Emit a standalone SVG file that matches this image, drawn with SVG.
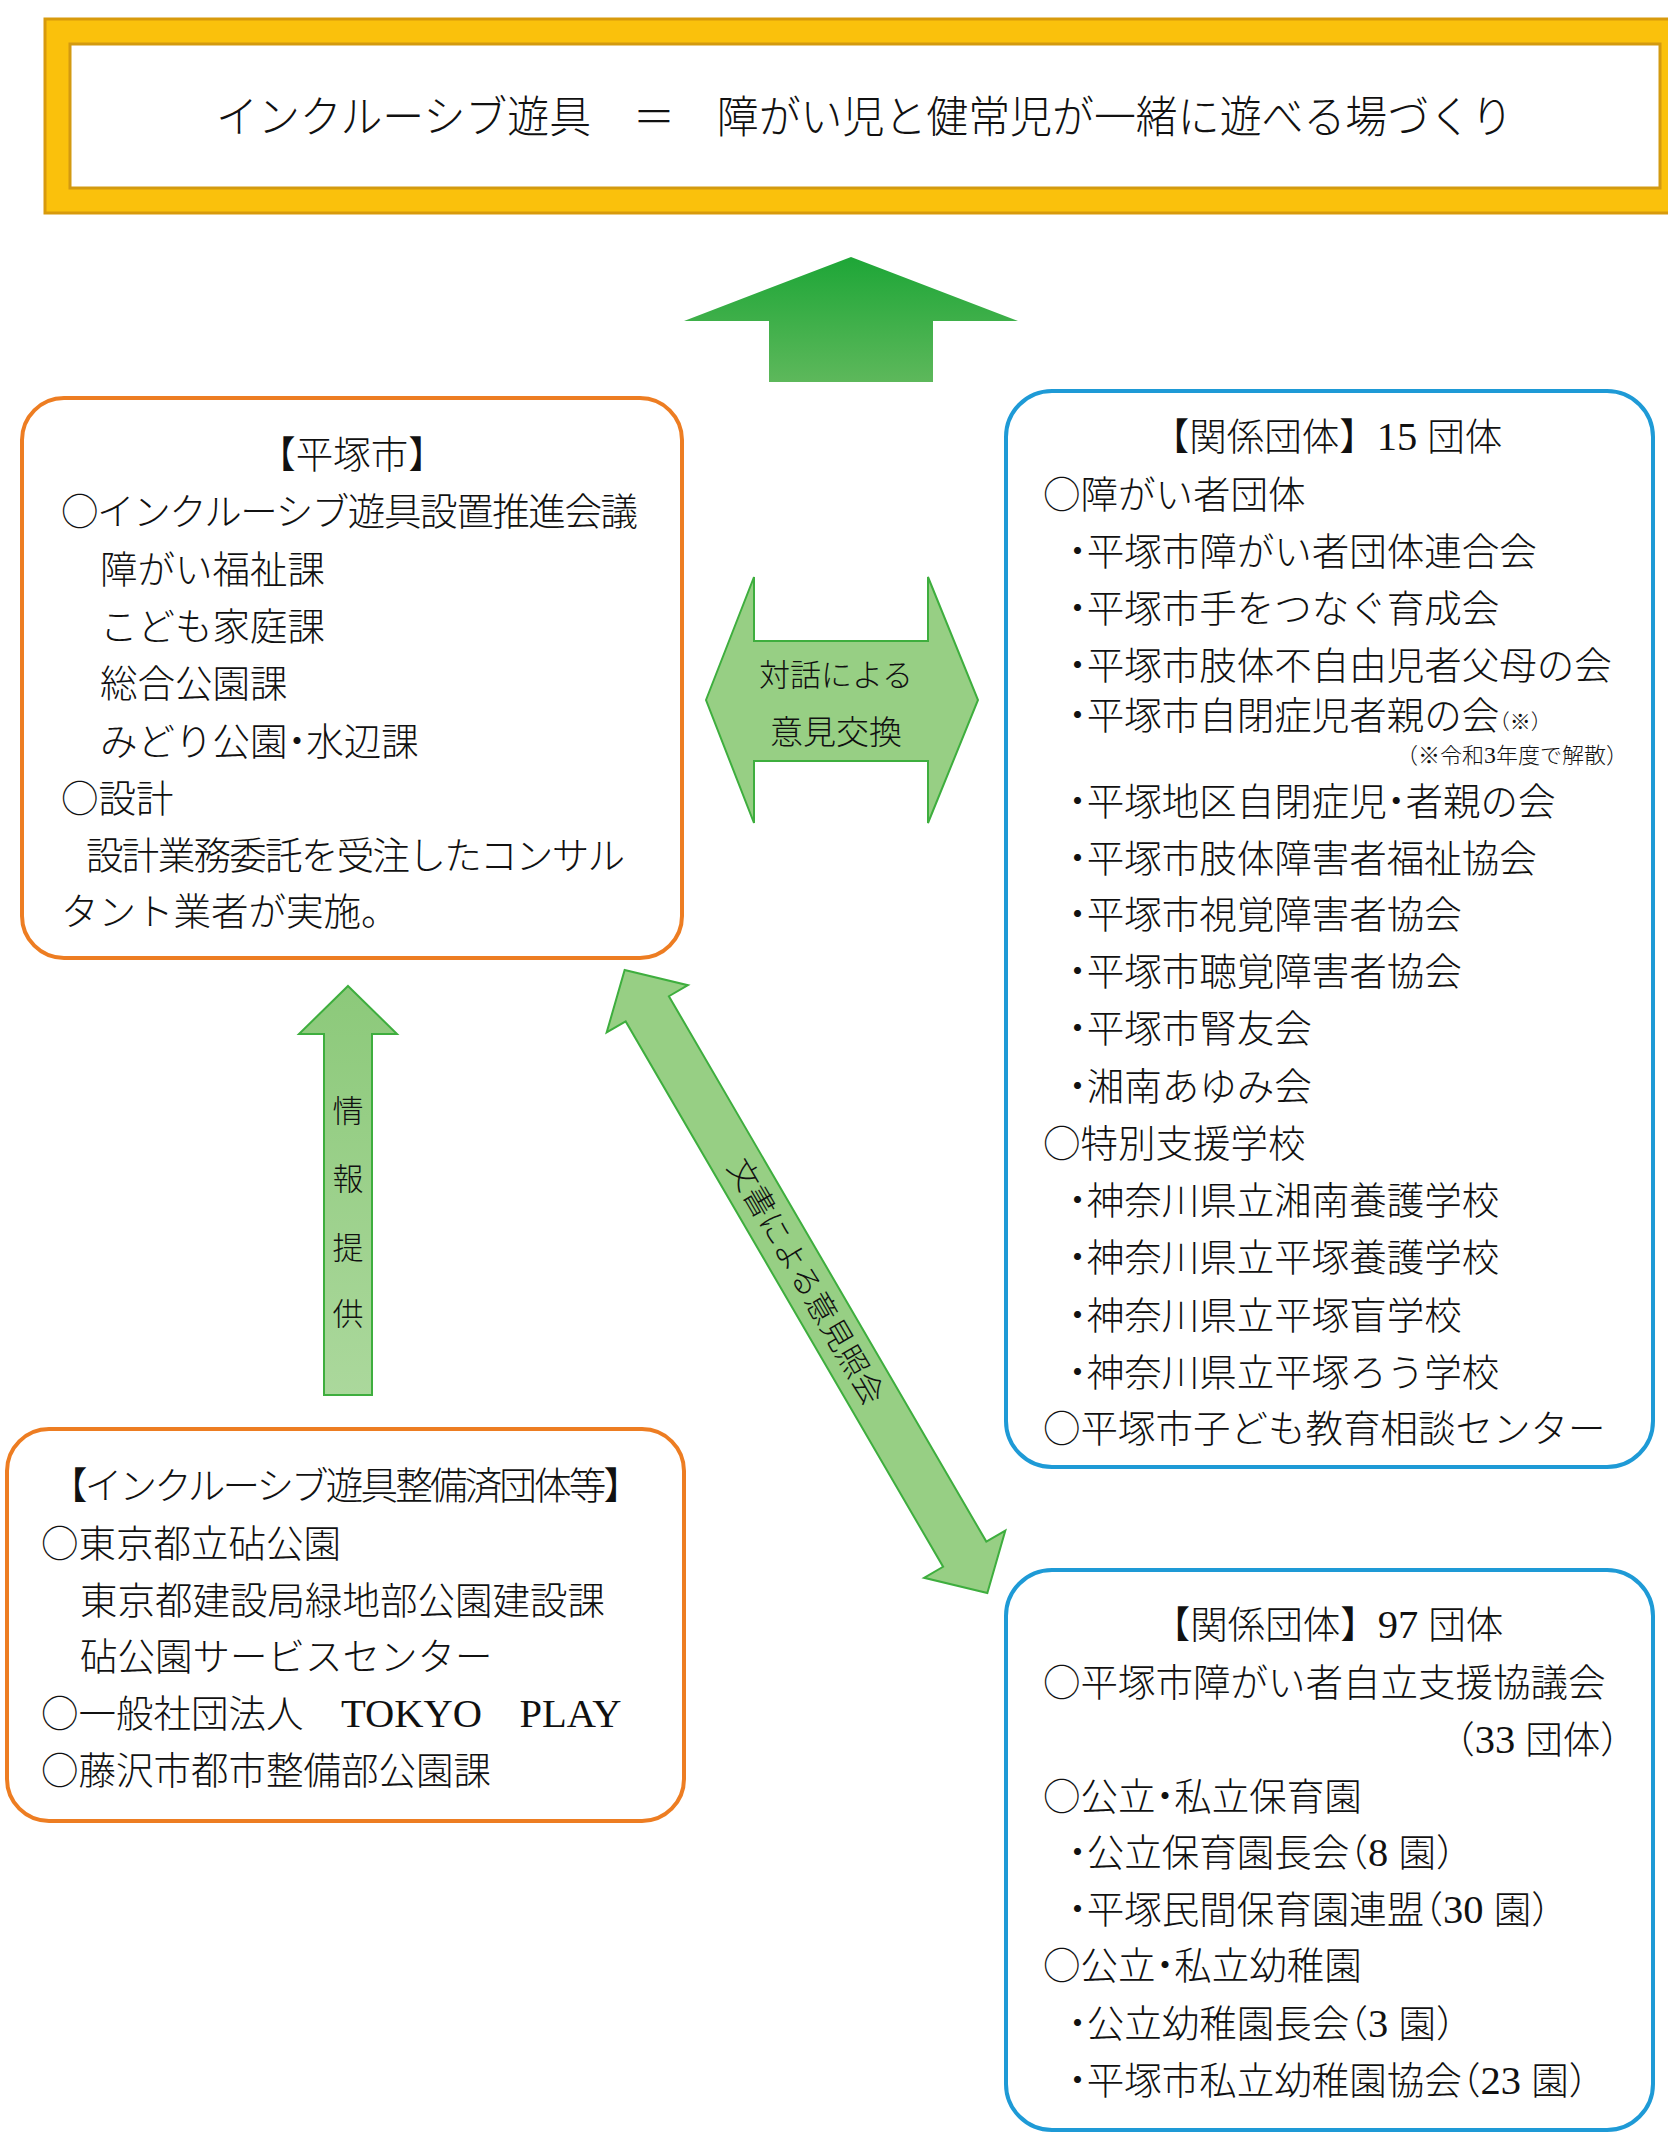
<svg xmlns="http://www.w3.org/2000/svg" width="1668" height="2138" viewBox="0 0 1668 2138">
<defs>
<style>
.t{font-family:"Noto Sans CJK JP","Noto Sans CJK SC",sans-serif;font-size:37.5px;fill:#111;font-weight:300}
.n{font-family:"Liberation Serif",serif;font-size:1.08em;font-weight:400}
.h{font-feature-settings:"halt"}
.s{font-size:21px}
.box-o{fill:#fff;stroke:#ED7D22;stroke-width:4}
.box-b{fill:#fff;stroke:#1E9AD6;stroke-width:4}
.ga{fill:#97CF84;stroke:#3EAE3E;stroke-width:2}
</style>
<linearGradient id="gBig" gradientUnits="userSpaceOnUse" x1="0" y1="257" x2="0" y2="382">
<stop offset="0" stop-color="#1EA637"/>
<stop offset="1" stop-color="#5DB85B"/>
</linearGradient>
<linearGradient id="gV" gradientUnits="userSpaceOnUse" x1="0" y1="986" x2="0" y2="1395">
<stop offset="0" stop-color="#8CC97A"/>
<stop offset="1" stop-color="#ABD89C"/>
</linearGradient>
</defs>
<rect width="1668" height="2138" fill="#fff"/>

<g id="title">
<rect x="45" y="19" width="1630" height="194" fill="#FAC10C" stroke="#D89A0C" stroke-width="3"/>
<rect x="70" y="44" width="1590" height="144" fill="#fff" stroke="#D39A10" stroke-width="3"/>
<text class="t" x="216" y="133" style="font-size:44px" textLength="1297" lengthAdjust="spacingAndGlyphs">インクルーシブ遊具　＝　障がい児と健常児が一緒に遊べる場づくり</text>
</g>

<g id="connectors">
<polygon points="851,257 1018,321 933,321 933,382 769,382 769,321 684,321" fill="url(#gBig)"/>
<g id="dialog-arrow">
<polygon class="ga" points="706,700 754,577 754,641 928,641 928,577 978,700 928,823 928,761 754,761 754,823"/>
<text class="t" x="836" y="686" text-anchor="middle" style="font-size:31px">対話による</text>
<text class="t" x="836" y="744" text-anchor="middle" style="font-size:33px">意見交換</text>
</g>
<g id="info-arrow">
<polygon points="348,986 397,1034 372,1034 372,1395 324,1395 324,1034 299,1034" fill="url(#gV)" stroke="#3EAE3E" stroke-width="2"/>
<text class="t" text-anchor="middle" style="font-size:31px"><tspan x="348" y="1122">情</tspan><tspan x="348" y="1190">報</tspan><tspan x="348" y="1259">提</tspan><tspan x="348" y="1325">供</tspan></text>
</g>
<g id="doc-arrow" transform="translate(806,1281.5) rotate(59.8)">
<polygon class="ga" points="-360.5,0 -315.5,-47 -315.5,-25 315.5,-25 315.5,-47 360.5,0 315.5,47 315.5,25 -315.5,25 -315.5,47"/>
<text class="t" x="0" y="11" text-anchor="middle" style="font-size:31px">文書による意見照会</text>
</g>
</g>

<g id="hiratsuka">
<rect class="box-o" x="22" y="398" width="660" height="560" rx="42"/>
<text class="t" x="352" y="468" text-anchor="middle">【平塚市】</text>
<text class="t" x="61" y="525" textLength="577">○インクルーシブ遊具設置推進会議</text>
<text class="t" x="100" y="583">障がい福祉課</text>
<text class="t" x="100" y="640">こども家庭課</text>
<text class="t" x="100" y="697">総合公園課</text>
<text class="t" x="100" y="755">みどり公園<tspan class="h">・</tspan>水辺課</text>
<text class="t" x="61" y="812">○設計</text>
<text class="t" x="86" y="869" textLength="539">設計業務委託を受注したコンサル</text>
<text class="t" x="61" y="925">タント業者が実施。</text>
</g>

<g id="groups15">
<rect class="box-b" x="1006" y="391" width="647" height="1076" rx="46"/>
<text class="t" x="1327" y="450" text-anchor="middle">【関係団体】<tspan class="n">15 </tspan>団体</text>
<text class="t" x="1043" y="508">○障がい者団体</text>
<text class="t" x="1068" y="565"><tspan class="h">・</tspan>平塚市障がい者団体連合会</text>
<text class="t" x="1068" y="622"><tspan class="h">・</tspan>平塚市手をつなぐ育成会</text>
<text class="t" x="1068" y="679"><tspan class="h">・</tspan>平塚市肢体不自由児者父母の会</text>
<text class="t" x="1068" y="729"><tspan class="h">・</tspan>平塚市自閉症児者親の会<tspan class="s h">（※）</tspan></text>
<text class="t" x="1628" y="763" text-anchor="end" style="font-size:22px">（※令和<tspan class="n">3</tspan>年度で解散）</text>
<text class="t" x="1068" y="815"><tspan class="h">・</tspan>平塚地区自閉症児<tspan class="h">・</tspan>者親の会</text>
<text class="t" x="1068" y="872"><tspan class="h">・</tspan>平塚市肢体障害者福祉協会</text>
<text class="t" x="1068" y="928"><tspan class="h">・</tspan>平塚市視覚障害者協会</text>
<text class="t" x="1068" y="985"><tspan class="h">・</tspan>平塚市聴覚障害者協会</text>
<text class="t" x="1068" y="1042"><tspan class="h">・</tspan>平塚市腎友会</text>
<text class="t" x="1068" y="1100"><tspan class="h">・</tspan>湘南あゆみ会</text>
<text class="t" x="1043" y="1157">○特別支援学校</text>
<text class="t" x="1068" y="1214"><tspan class="h">・</tspan>神奈川県立湘南養護学校</text>
<text class="t" x="1068" y="1271"><tspan class="h">・</tspan>神奈川県立平塚養護学校</text>
<text class="t" x="1068" y="1329"><tspan class="h">・</tspan>神奈川県立平塚盲学校</text>
<text class="t" x="1068" y="1386"><tspan class="h">・</tspan>神奈川県立平塚ろう学校</text>
<text class="t" x="1043" y="1442">○平塚市子ども教育相談センター</text>
</g>

<g id="groups97">
<rect class="box-b" x="1006" y="1570" width="647" height="560" rx="46"/>
<text class="t" x="1328" y="1638" text-anchor="middle">【関係団体】<tspan class="n">97 </tspan>団体</text>
<text class="t" x="1043" y="1696">○平塚市障がい者自立支援協議会</text>
<text class="t" x="1619" y="1753" text-anchor="end"><tspan class="h">（</tspan><tspan class="n">33 </tspan>団体<tspan class="h">）</tspan></text>
<text class="t" x="1043" y="1810">○公立<tspan class="h">・</tspan>私立保育園</text>
<text class="t" x="1068" y="1866"><tspan class="h">・</tspan>公立保育園長会<tspan class="h">（</tspan><tspan class="n">8 </tspan>園<tspan class="h">）</tspan></text>
<text class="t" x="1068" y="1923"><tspan class="h">・</tspan>平塚民間保育園連盟<tspan class="h">（</tspan><tspan class="n">30 </tspan>園<tspan class="h">）</tspan></text>
<text class="t" x="1043" y="1979">○公立<tspan class="h">・</tspan>私立幼稚園</text>
<text class="t" x="1068" y="2037"><tspan class="h">・</tspan>公立幼稚園長会<tspan class="h">（</tspan><tspan class="n">3 </tspan>園<tspan class="h">）</tspan></text>
<text class="t" x="1068" y="2094"><tspan class="h">・</tspan>平塚市私立幼稚園協会<tspan class="h">（</tspan><tspan class="n">23 </tspan>園<tspan class="h">）</tspan></text>
</g>

<g id="installed">
<rect class="box-o" x="7" y="1429" width="677" height="392" rx="42"/>
<text class="t" x="50" y="1499" textLength="591">【インクルーシブ遊具整備済団体等】</text>
<text class="t" x="41" y="1557">○東京都立砧公園</text>
<text class="t" x="80" y="1614">東京都建設局緑地部公園建設課</text>
<text class="t" x="80" y="1670">砧公園サービスセンター</text>
<text class="t" x="41" y="1727">○一般社団法人　<tspan class="n">TOKYO</tspan>　<tspan class="n">PLAY</tspan></text>
<text class="t" x="41" y="1784">○藤沢市都市整備部公園課</text>
</g>
</svg>
